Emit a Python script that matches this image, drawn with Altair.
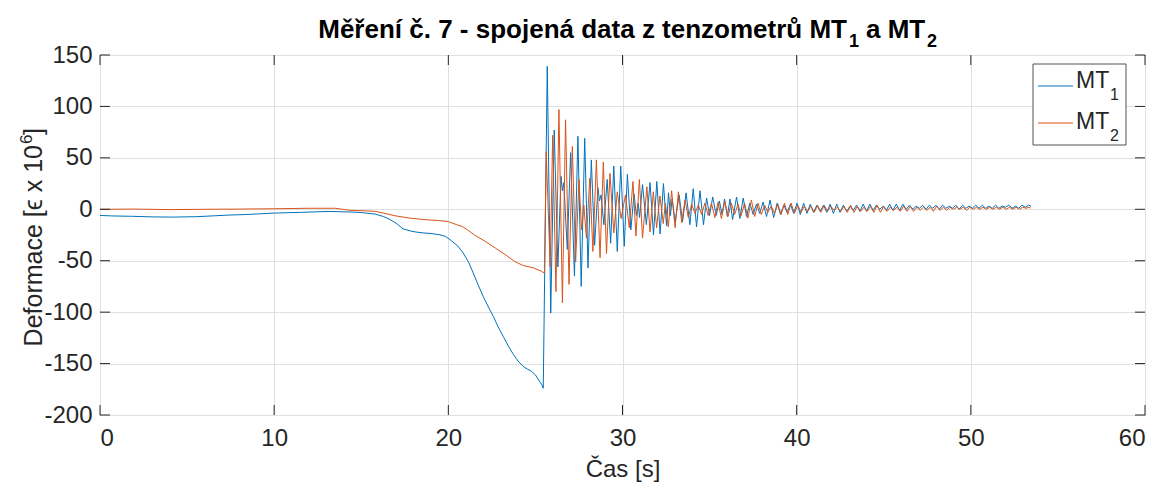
import altair as alt
import pandas as pd

# ---- data ----
mt1_t = [0.0, 0.8, 1.8, 3.0, 4.2, 5.5, 6.5, 7.3, 8.5, 10.0, 11.5, 13.1, 14.35, 15.0, 15.8, 16.27, 16.6, 17.0,
         17.4, 17.8, 18.1, 18.56, 19.0, 19.52, 19.85, 20.1, 20.5, 20.86, 21.15, 21.43, 21.7, 22.0, 22.3, 22.58,
         22.85, 23.15, 23.45, 23.73, 24.0, 24.3, 24.55, 24.78, 25.0, 25.17, 25.35,
         25.45, 25.68, 25.88, 26.08, 26.29, 26.47, 26.55, 26.63, 26.83, 27.02, 27.24, 27.44, 27.63, 27.83, 28.02,
         28.21, 28.40, 28.59, 28.68, 28.77, 28.93, 29.12, 29.32, 29.50, 29.70, 29.90, 30.10, 30.28, 30.48, 30.66,
         30.80, 30.90, 30.98, 31.15, 31.37, 31.58, 31.78, 31.97, 32.16, 32.35, 32.53, 32.64, 32.75, 32.85, 33.02,
         33.25, 33.45, 33.65, 33.87, 34.06, 34.25, 34.45, 34.65, 34.83, 35.00, 35.18, 35.38, 35.56, 35.72, 35.86,
         36.02, 36.17, 36.32, 36.55, 36.74, 36.93, 37.12, 37.31, 37.50, 37.69, 37.88, 38.07, 38.27, 38.47, 38.68,
         38.88, 39.07, 39.26, 39.45, 39.64, 39.83, 40.02, 40.21, 40.40, 40.59, 40.78, 40.97, 41.16, 41.35, 41.54,
         41.73, 41.92, 42.11, 42.30, 42.49, 42.68, 42.87, 43.06, 43.25, 43.44, 43.63, 43.82, 44.01, 44.20, 44.39,
         44.58, 44.77, 44.96, 45.15, 45.34, 45.53, 45.72, 45.91, 46.10, 46.29, 46.48, 46.67, 46.86, 47.05, 47.24,
         47.43, 47.62, 47.81, 48.00, 48.19, 48.38, 48.57, 48.76, 48.95, 49.14, 49.33, 49.52, 49.71, 49.90, 50.09,
         50.28, 50.47, 50.66, 50.85, 51.04, 51.23, 51.42, 51.61, 51.80, 51.99, 52.18, 52.37, 52.56, 52.75, 52.94,
         53.13, 53.32, 53.45]
mt1_v = [-6, -6.5, -6.8, -7.4, -7.6, -7.2, -6.4, -5.7, -5.0, -3.7, -3.0, -2.1, -2.6, -3.2, -4.7, -7.0, -9.5, -13.5,
         -19.0, -21.0, -22.0, -23.0, -23.5, -24.8, -26.5, -29.6, -35.0, -42.6, -51.0, -62.0, -73.0, -84.7, -95.0, -104.0,
         -114.0, -123.6, -133.0, -141.0, -147.5, -152.8, -155.5, -157.6, -161.0, -165.7, -170.0,
         -174, 139, -101, 77, -56, 32, 18, 26, -39, 55, -65, 71, -75, 69, -57,
         48, -35, 21, 8, 14, -15, 29, -33, 42, -41, 42, -36, 34, -20, 15,
         -6, 6, -8, 24, -15, 26, -25, 27, -24, 25, -16, 16, -6, 10, -12,
         14, -12, 16, -15, 20, -17, 18, -15, 11, -6, 12, -6, 8, -5, 10,
         -7, 10, -10, 12, -9, 11, -7, 6, -5, 5, -4, 7, -7, 9, -8,
         6, -5, 4, -3, 5, -4, 6, -5, 6, -4, 5, -3, 4, -2, 4,
         -3, 5, -4, 5, -3, 4, -2, 3, -1, 4, -2, 5, -2, 5, -1,
         4, 0, 3, -1, 5, -1, 5, -1, 5, 0, 4, 0, 3, 1, 4,
         0, 4, 1, 4, 0, 4, 1, 3, 1, 4, 0, 4, 1, 3, 1,
         4, 1, 4, 1, 3, 1, 4, 1, 3, 2, 4, 1, 3, 1, 4,
         2, 4, 3]

mt2_t = [0.0, 2.0, 4.0, 6.0, 8.0, 10.0, 12.0, 13.5, 14.35, 15.2, 15.8, 16.27, 17.0, 17.8, 18.6, 19.5, 20.0, 20.48,
         20.8, 21.1, 21.5, 22.1, 22.7, 23.3, 23.8, 24.3, 24.9, 25.36, 25.52,
         25.62, 25.85, 25.99, 26.18, 26.35, 26.55, 26.73, 26.93, 27.12, 27.31, 27.50, 27.65, 27.78, 27.93, 28.12,
         28.30, 28.50, 28.71, 28.90, 29.08, 29.28, 29.50, 29.70, 29.92, 30.17, 30.39, 30.60, 30.77, 30.97, 31.15,
         31.40, 31.58, 31.77, 31.96, 32.15, 32.34, 32.46, 32.63, 32.82, 33.02, 33.21, 33.40, 33.59, 33.78, 33.97,
         34.16, 34.35, 34.54, 34.73, 34.92, 35.11, 35.30, 35.49, 35.68, 35.87, 36.06, 36.25, 36.44, 36.63, 36.82,
         37.01, 37.20, 37.40, 37.59, 37.78, 37.97, 38.16, 38.35, 38.54, 38.73, 38.92, 39.11, 39.30, 39.49, 39.68,
         39.87, 40.06, 40.25, 40.44, 40.63, 40.82, 41.01, 41.20, 41.39, 41.58, 41.77, 41.96, 42.15, 42.34, 42.53,
         42.72, 42.91, 43.10, 43.29, 43.48, 43.67, 43.86, 44.05, 44.24, 44.43, 44.62, 44.81, 45.00, 45.19, 45.38,
         45.57, 45.76, 45.95, 46.14, 46.33, 46.52, 46.71, 46.90, 47.09, 47.28, 47.47, 47.66, 47.85, 48.04, 48.23,
         48.42, 48.61, 48.80, 48.99, 49.18, 49.37, 49.56, 49.75, 49.94, 50.13, 50.32, 50.51, 50.70, 50.89, 51.08,
         51.27, 51.46, 51.65, 51.84, 52.03, 52.22, 52.41, 52.60, 52.79, 52.98, 53.17, 53.36, 53.45]
mt2_v = [0, 0.2, -0.3, 0, 0.2, 0.5, 1.0, 1.0, -1.0, -1.5, -2.0, -3.7, -6.5, -8.6, -10.0, -11.0, -12.0, -15.0,
         -16.7, -20.0, -25.0, -31.0, -37.7, -44.5, -50.7, -54.7, -57.0, -60.4, -62,
         56, -56, 72, -80, 97, -91, 87, -73, 61, -51, 29, -20, 4, -28, 30,
         -41, 48, -47, 46, -43, 35, -23, 17, -9, 14, -18, 27, -26, 29, -28,
         22, -22, 17, -18, 13, -14, 6, -17, 18, -18, 17, -13, 9, -8, 5,
         -4, 4, -5, 6, -6, 6, -8, 7, -9, 8, -7, 6, -5, 5, -6,
         6, -8.6, 9, -7, 6, -5, 4, -3, 3, -4, 5, -5, 6, -5, 6,
         -4, 4, -3, 3, -2, 3, -3, 4, -3, 4, -2, 3, -1, 2, -2,
         3, -3, 4, -3, 3, -2, 2, -2, 3, -3, 4, -3, 3, -2, 2,
         -1, 2, -2, 3, -2, 3, -2, 2, -1, 2, -1, 2, -2, 3, -1,
         2, -1, 2, 0, 2, 0, 2, -1, 2, 0, 2, 0, 2, 0, 2,
         0, 2, 0, 2, 0, 2, 0, 2, 0, 2, 1, 2, 1]

series_names = ["MT1", "MT2"]
series_colors = ["#0072BD", "#D95319"]
x_ticks = [0, 10, 20, 30, 40, 50, 60]
y_ticks = [-200, -150, -100, -50, 0, 50, 100, 150]

# ---- layout ----
W, H = 1045, 360
FRAME = "#262626"
FONT = "Liberation Sans"

df = pd.concat([
    pd.DataFrame({"t": mt1_t, "v": mt1_v, "s": series_names[0]}),
    pd.DataFrame({"t": mt2_t, "v": mt2_v, "s": series_names[1]}),
])

xs = alt.Scale(domain=[0, 60], nice=False, zero=False)
ys = alt.Scale(domain=[-200, 150], nice=False, zero=False)

x_axis = alt.Axis(
    values=x_ticks, title="Čas [s]", grid=True, ticks=False, domain=False,
    labelFontSize=24, labelPadding=11, labelColor=FRAME, labelFont=FONT,
    titleFontSize=24, titleFont=FONT, titleFontWeight="normal", titleColor=FRAME,
    titleY=61, titleBaseline="alphabetic")
y_axis = alt.Axis(
    values=y_ticks, title="", grid=True, ticks=False, domain=False,
    labelFontSize=24, labelPadding=8, labelColor=FRAME, labelFont=FONT,
    labelExpr="'' + datum.value")

lines = alt.Chart(df).mark_line(strokeWidth=1, clip=True).encode(
    x=alt.X("t:Q", scale=xs, axis=x_axis),
    y=alt.Y("v:Q", scale=ys, axis=y_axis),
    color=alt.Color("s:N", scale=alt.Scale(domain=series_names, range=series_colors), legend=None),
    order=alt.Order("t:Q"),
)

ydf = pd.DataFrame({"v": y_ticks})
xdf = pd.DataFrame({"t": x_ticks})
tick_l = alt.Chart(ydf).mark_rule(color=FRAME, strokeWidth=1).encode(
    y=alt.Y("v:Q", scale=ys, axis=y_axis), x=alt.value(0), x2=alt.value(10))
tick_r = alt.Chart(ydf).mark_rule(color=FRAME, strokeWidth=1).encode(
    y=alt.Y("v:Q", scale=ys, axis=y_axis), x=alt.value(W - 10), x2=alt.value(W))
tick_b = alt.Chart(xdf).mark_rule(color=FRAME, strokeWidth=1).encode(
    x=alt.X("t:Q", scale=xs, axis=x_axis), y=alt.value(H), y2=alt.value(H - 10))
tick_t = alt.Chart(xdf).mark_rule(color=FRAME, strokeWidth=1).encode(
    x=alt.X("t:Q", scale=xs, axis=x_axis), y=alt.value(0), y2=alt.value(10))


def txt(s, x, y, size, align="left", weight="normal", color="#000000", angle=0):
    return alt.Chart(pd.DataFrame({"s": [s]})).mark_text(
        align=align, baseline="alphabetic", fontSize=size, font=FONT, fontWeight=weight,
        color=color, angle=angle
    ).encode(text="s:N", x=alt.value(x), y=alt.value(y))


# title pieces (subscripts lowered)
title_parts = [
    txt("Měření č. 7 - spojená data z tenzometrů MT", 747, -17, 26, align="right", weight="bold"),
    txt("1", 749, -8, 18, weight="bold"),
    txt("a MT", 766, -17, 26, weight="bold"),
    txt("2", 827, -8, 18, weight="bold"),
]

# y-axis title pieces, rotated (superscript 6)
ytitle_parts = [
    txt("Deformace [ϵ x 10", -58, 90, 25, align="right", color=FRAME, angle=270),
    txt("6", -68, 89, 17, align="left", color=FRAME, angle=270),
    txt("]", -58, 80, 25, align="left", color=FRAME, angle=270),
]

# legend (manual, MATLAB style)
leg_box = alt.Chart(pd.DataFrame({"a": [0]})).mark_rect(
    fill="white", stroke="#262626", strokeWidth=0.8).encode(
    x=alt.value(933), x2=alt.value(1026), y=alt.value(9), y2=alt.value(90))
leg_l1 = alt.Chart(pd.DataFrame({"a": [0]})).mark_rule(color=series_colors[0], strokeWidth=1).encode(
    x=alt.value(938), x2=alt.value(973), y=alt.value(31))
leg_l2 = alt.Chart(pd.DataFrame({"a": [0]})).mark_rule(color=series_colors[1], strokeWidth=1).encode(
    x=alt.value(938), x2=alt.value(973), y=alt.value(68))
leg_txt = [
    txt("MT", 976, 33, 23, color=FRAME),
    txt("1", 1010, 45, 16, color=FRAME),
    txt("MT", 976, 74, 23, color=FRAME),
    txt("2", 1010, 86, 16, color=FRAME),
]

chart = alt.layer(
    lines, tick_l, tick_r, tick_b, tick_t, leg_box, leg_l1, leg_l2, *leg_txt, *title_parts, *ytitle_parts
).properties(
    width=W, height=H,
    autosize=alt.AutoSizeParams(type="none"),
    padding={"left": 100, "top": 55, "right": 13, "bottom": 69},
    background="white",
).configure_view(
    stroke=FRAME, strokeWidth=1
).configure_axis(
    gridColor="#e0e0e0", gridWidth=1, gridOpacity=1
)

chart.save("out.html", embed_options={"renderer": "svg", "actions": False})
